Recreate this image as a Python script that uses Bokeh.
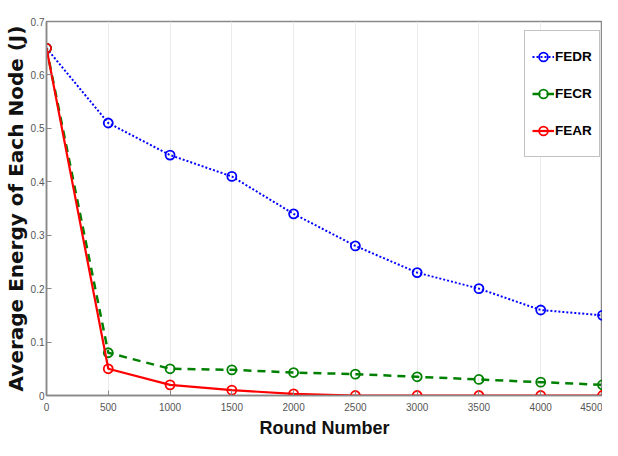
from bokeh.plotting import figure
from bokeh.models import FixedTicker, Legend, LegendItem
from bokeh.embed import file_html
from bokeh.resources import INLINE

rounds = [0, 500, 1000, 1500, 2000, 2500, 3000, 3500, 4000, 4500]
fedr = [0.65, 0.51, 0.45, 0.41, 0.34, 0.28, 0.23, 0.20, 0.16, 0.15]
fecr = [0.65, 0.08, 0.05, 0.048, 0.043, 0.04, 0.035, 0.03, 0.025, 0.02]
fear = [0.65, 0.05, 0.02, 0.01, 0.003, 0.0, 0.0, 0.0, 0.0, 0.0]
y_ticks = [0, 0.1, 0.2, 0.3, 0.4, 0.5, 0.6, 0.7]
y_tick_labels = ["0", "0.1", "0.2", "0.3", "0.4", "0.5", "0.6", "0.7"]
x_ticks = rounds

NARROW = "Liberation Sans Narrow, Arial Narrow, Liberation Sans, sans-serif"

p = figure(width=602, height=440, output_backend="svg", toolbar_location=None,
           x_range=(0, 4500), y_range=(0, 0.7),
           min_border_left=0, min_border_right=0, min_border_top=21, min_border_bottom=0)

p.outline_line_color = "#888888"
p.outline_line_width = 1.5

p.xgrid.grid_line_color = "#ebebeb"
p.ygrid.grid_line_color = None

for ax in (p.xaxis[0], p.yaxis[0]):
    ax.axis_line_color = "#888888"
    ax.axis_line_width = 1.5
    ax.major_tick_line_color = "#888888"
    ax.major_tick_in = 5
    ax.major_tick_out = 0
    ax.minor_tick_line_color = None
    ax.major_label_text_font = NARROW
    ax.major_label_text_font_size = "10px"
    ax.major_label_text_color = "#555555"

p.xaxis.ticker = FixedTicker(ticks=x_ticks)
p.yaxis.ticker = FixedTicker(ticks=y_ticks)
p.yaxis.major_label_overrides = {t: l for t, l in zip(y_ticks, y_tick_labels)}

p.xaxis.axis_label = "Round Number"
p.xaxis.axis_label_text_font = NARROW
p.xaxis.axis_label_text_font_style = "bold"
p.xaxis.axis_label_text_font_size = "18px"
p.xaxis.axis_label_text_color = "#111111"
p.xaxis.major_label_standoff = 7
p.xaxis.axis_label_standoff = 4

p.yaxis.axis_label = "Average Energy of Each Node (J)"
p.yaxis.axis_label_text_font = "DejaVu Sans"
p.yaxis.axis_label_text_font_style = "bold"
p.yaxis.axis_label_text_font_size = "20px"
p.yaxis.axis_label_text_color = "#111111"
p.yaxis.major_label_standoff = 2
p.yaxis.axis_label_standoff = 0

l1 = p.line(rounds, fedr, line_color="#0000ff", line_width=2, line_dash="2 2")
m1 = p.scatter(rounds, fedr, marker="circle", size=9, fill_color=None,
               line_color="#0000ff", line_width=1.8)
l2 = p.line(rounds, fecr, line_color="#008000", line_width=2.5, line_dash="8 6")
m2 = p.scatter(rounds, fecr, marker="circle", size=9, fill_color=None,
               line_color="#008000", line_width=1.8)
l3 = p.line(rounds, fear, line_color="#ff0000", line_width=2.2)
m3 = p.scatter(rounds, fear, marker="circle", size=9, fill_color=None,
               line_color="#ff0000", line_width=1.8)

legend = Legend(items=[LegendItem(label="FEDR", renderers=[l1, m1]),
                       LegendItem(label="FECR", renderers=[l2, m2]),
                       LegendItem(label="FEAR", renderers=[l3, m3])],
                location=(478, 238), margin=0, padding=7, spacing=0,
                label_height=37, glyph_height=37, glyph_width=22, label_standoff=1,
                label_text_font=NARROW, label_text_font_style="bold",
                label_text_font_size="13.5px", label_text_color="#000000",
                border_line_color="#888888", border_line_width=1.2,
                background_fill_alpha=1.0)
p.add_layout(legend)

open("out.html", "w").write(file_html(p, INLINE))
